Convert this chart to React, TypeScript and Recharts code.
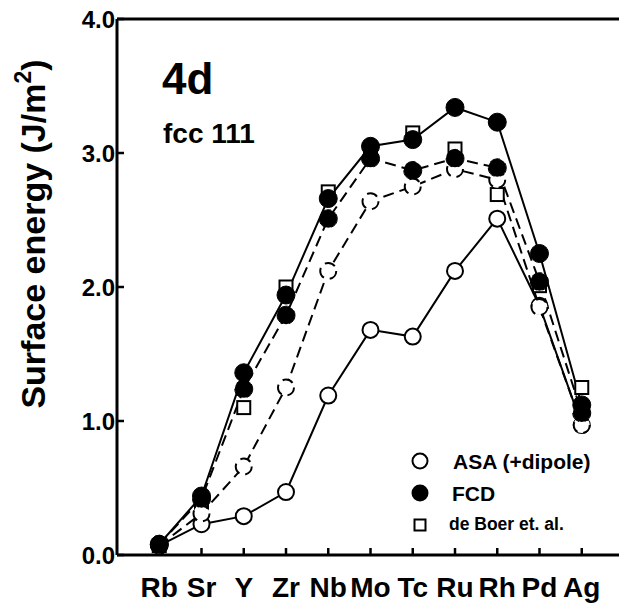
import React from "react";
import { ComposedChart, Legend, Line, XAxis, YAxis } from "recharts";

const elements = ["Rb", "Sr", "Y", "Zr", "Nb", "Mo", "Tc", "Ru", "Rh", "Pd", "Ag"];

// ASA (+dipole), open circles: solid and dashed curves
const asaSolid = [0.07, 0.23, 0.29, 0.47, 1.19, 1.68, 1.63, 2.12, 2.51, 1.86, 0.97];
const asaDashed = [0.07, 0.31, 0.66, 1.25, 2.12, 2.64, 2.75, 2.88, 2.8, 1.85, 0.97];

// FCD, filled circles
const fcdSolid = [0.08, 0.44, 1.36, 1.94, 2.66, 3.05, 3.1, 3.34, 3.23, 2.25, 1.12];
const fcdDashed = [0.08, 0.42, 1.24, 1.79, 2.51, 2.96, 2.87, 2.96, 2.89, 2.04, 1.06];

// de Boer et al., squares only
const deBoer = [0.07, 0.38, 1.1, 2.0, 2.71, 3.0, 3.15, 3.03, 2.69, 2.01, 1.25];

const yTicks = [0, 1, 2, 3, 4];
const xTicks = elements.map((_, i) => i);

const data = elements.map((name, i) => ({
  x: i,
  name,
  asaSolid: asaSolid[i],
  asaDashed: asaDashed[i],
  fcdSolid: fcdSolid[i],
  fcdDashed: fcdDashed[i],
  deBoer: deBoer[i]
}));

const font = "'Liberation Sans', Arial, Helvetica, sans-serif";
const axisLine = { stroke: "#000", strokeWidth: 3 };
const tickLine = { stroke: "#000", strokeWidth: 2.5 };

const openDot = { r: 8, fill: "#fff", stroke: "#000", strokeWidth: 2 };
const filledDot = { r: 9, fill: "#000", stroke: "#000", strokeWidth: 1 };

function SquareDot(props: any) {
  const { cx, cy, index } = props;
  if (cx == null || cy == null) return null;
  return <rect key={`sq-${index}`} x={cx - 6.5} y={cy - 6.5} width={13} height={13} fill="#fff" stroke="#000" strokeWidth={2} />;
}

function YLabel(props: any) {
  const vb = props.viewBox || { x: 0, y: 19 };
  const x = vb.x + 45;
  const y = vb.y + 215;
  return (
    <text x={x} y={y} transform={`rotate(-90, ${x}, ${y})`} textAnchor="middle" fontFamily={font} fontWeight={700} fontSize={34} fill="#000">
      Surface energy (J/m
      <tspan fontSize={23} dy={-14}>2</tspan>
      <tspan dy={14}>)</tspan>
    </text>
  );
}

function LegendBox() {
  const rowText = { position: "absolute" as const, fontFamily: font, fontWeight: 700, color: "#000", lineHeight: 1, whiteSpace: "nowrap" as const };
  return (
    <div style={{ position: "relative", width: 220, height: 100 }}>
      <svg width={30} height={100} style={{ position: "absolute", left: 0, top: 0 }}>
        <circle cx={15} cy={16} r={7.5} fill="#fff" stroke="#000" strokeWidth={2} />
        <circle cx={15} cy={48} r={8.5} fill="#000" />
        <rect x={9.5} y={74.5} width={11} height={11} fill="#fff" stroke="#000" strokeWidth={2} />
      </svg>
      <div style={{ ...rowText, left: 48, top: 6, fontSize: 21 }}>ASA (+dipole)</div>
      <div style={{ ...rowText, left: 47, top: 38, fontSize: 21 }}>FCD</div>
      <div style={{ ...rowText, left: 44, top: 71, fontSize: 17.5 }}>de Boer et. al.</div>
    </div>
  );
}

export default function App() {
  return (
    <div style={{ position: "absolute", left: 0, top: 0, width: 619, height: 605, overflow: "hidden", background: "#fff" }}>
      <ComposedChart width={625} height={605} data={data} margin={{ top: 18, right: 0, bottom: 0, left: 0 }}>
        <XAxis
          dataKey="x"
          type="number"
          domain={[-1, 11]}
          ticks={xTicks}
          interval={0}
          allowDataOverflow
          tickFormatter={(v) => elements[v] ?? ""}
          height={50}
          axisLine={axisLine}
          tickLine={tickLine}
          tickSize={-7}
          tickMargin={29}
          tick={{ fill: "#000", fontSize: 28, fontWeight: 700, fontFamily: font }}
        />
        <XAxis
          xAxisId="top"
          orientation="top"
          dataKey="x"
          type="number"
          domain={[-1, 11]}
          ticks={xTicks}
          interval={0}
          allowDataOverflow
          height={1}
          axisLine={axisLine}
          tickLine={tickLine}
          tickSize={-8}
          tick={false}
        />
        <YAxis
          type="number"
          domain={[0, 4]}
          ticks={yTicks}
          interval={0}
          allowDataOverflow
          width={117}
          axisLine={axisLine}
          tickLine={tickLine}
          tickSize={-7}
          tickMargin={9}
          tickFormatter={(v) => Number(v).toFixed(1)}
          tick={{ fill: "#000", fontSize: 24, fontWeight: 700, fontFamily: font }}
          label={{ content: <YLabel /> }}
        />
        <YAxis
          yAxisId="right"
          orientation="right"
          type="number"
          domain={[0, 4]}
          ticks={yTicks}
          interval={0}
          allowDataOverflow
          width={1}
          axisLine={axisLine}
          tickLine={tickLine}
          tickSize={-7}
          tick={false}
        />
        <Legend layout="vertical" align="center" verticalAlign="middle" content={<LegendBox />} wrapperStyle={{ left: 405, top: 445, width: 220 }} />
        <Line dataKey="deBoer" stroke="none" dot={<SquareDot />} activeDot={false} isAnimationActive={false} legendType="none" />
        <Line dataKey="asaSolid" stroke="#000" strokeWidth={2} dot={openDot} activeDot={false} isAnimationActive={false} type="linear" />
        <Line dataKey="asaDashed" stroke="#000" strokeWidth={2} strokeDasharray="11 6" dot={openDot} activeDot={false} isAnimationActive={false} type="linear" />
        <Line dataKey="fcdSolid" stroke="#000" strokeWidth={2} dot={filledDot} activeDot={false} isAnimationActive={false} type="linear" />
        <Line dataKey="fcdDashed" stroke="#000" strokeWidth={2} strokeDasharray="11 6" dot={filledDot} activeDot={false} isAnimationActive={false} type="linear" />
      </ComposedChart>
      <div style={{ position: "absolute", left: 162, top: 57, fontFamily: font, fontWeight: 700, fontSize: 44, lineHeight: 1 }}>4d</div>
      <div style={{ position: "absolute", left: 163, top: 120, fontFamily: font, fontWeight: 700, fontSize: 28, lineHeight: 1 }}>fcc 111</div>
    </div>
  );
}
